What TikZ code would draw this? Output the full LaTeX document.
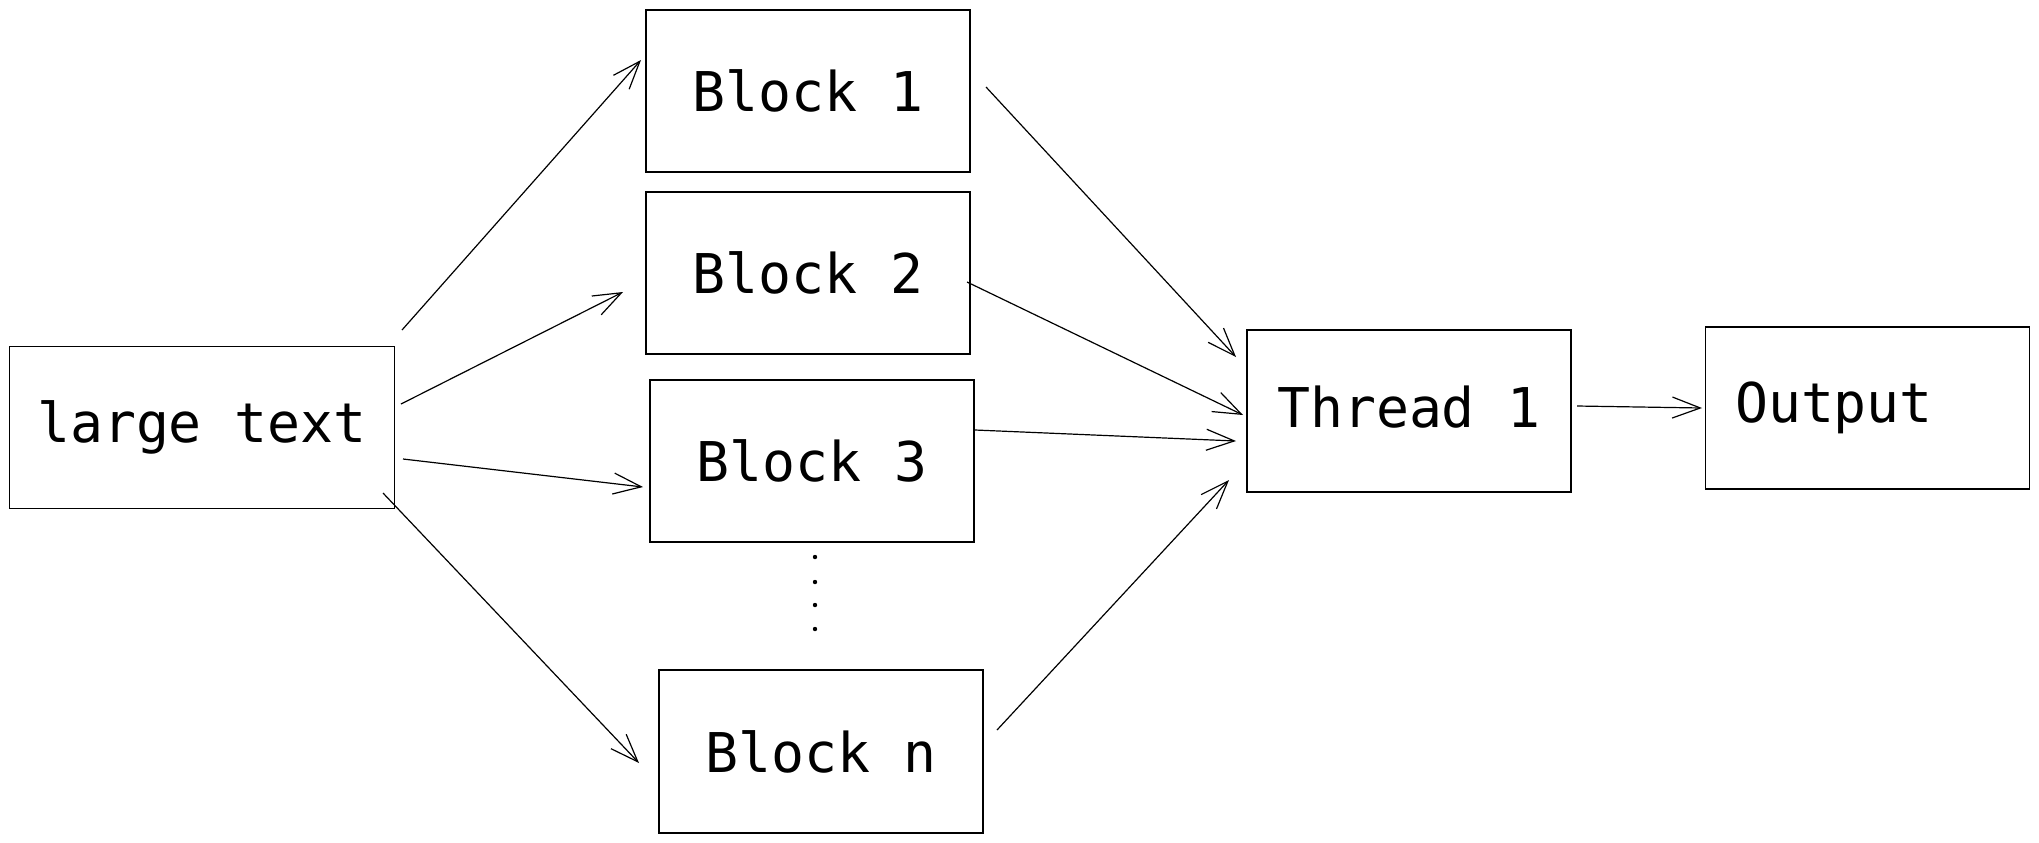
\documentclass[tikz,border=0pt]{standalone}
\usepackage{fontspec}
\setmonofont{DejaVu Sans Mono}
\usetikzlibrary{arrows.meta}
\tikzset{
  blockbox/.style={draw=black, line width=0.95pt, rectangle, minimum width=162pt, minimum height=81pt, inner sep=0pt, font=\ttfamily\fontsize{27.4}{30}\selectfont},
  arr/.style={line width=0.6pt, -{Straight Barb[length=14pt,width=10.5pt,line width=0.6pt]}},
  dotmark/.style={circle, fill=black, inner sep=0pt, minimum size=2.2pt}
}
\begin{document}
\begin{tikzpicture}[x=0.5pt,y=-0.5pt]
\useasboundingbox (0,0) rectangle (2039,842);
\node[blockbox, minimum width=192.5pt] (large) at (202,427.5) {large text};
\node[blockbox] (b1) at (808,91) {Block 1};
\node[blockbox] (b2) at (808,273) {Block 2};
\node[blockbox] (b3) at (812,461) {Block 3};
\node[blockbox, minimum height=81.5pt] (bn) at (821,751.5) {Block n};
\node[blockbox, text depth=4pt] (thread) at (1409,411) {Thread 1};
\node[blockbox, text width=132.5pt, inner xsep=14.5pt, align=left] (out) at (1867.5,408) {Output};
\node[dotmark] (d1) at (815,557) {};
\node[dotmark] (d2) at (815,582) {};
\node[dotmark] (d3) at (815,605) {};
\node[dotmark] (d4) at (815,629) {};
% connector end points
\coordinate (a1s) at (402,330); \coordinate (a1e) at (641,60);
\coordinate (a2s) at (401,404); \coordinate (a2e) at (623,292);
\coordinate (a3s) at (403,459); \coordinate (a3e) at (643,487);
\coordinate (a4s) at (383,493); \coordinate (a4e) at (639,763);
\coordinate (a5s) at (986,87);  \coordinate (a5e) at (1236,357);
\coordinate (a6s) at (967,282); \coordinate (a6e) at (1243,415);
\coordinate (a7s) at (975,430); \coordinate (a7e) at (1236,441);
\coordinate (a8s) at (997,730); \coordinate (a8e) at (1229,480);
\coordinate (a9s) at (1577,406); \coordinate (a9e) at (1702,408);
\draw[arr] (a1s) -- (a1e);
\draw[arr] (a2s) -- (a2e);
\draw[arr] (a3s) -- (a3e);
\draw[arr] (a4s) -- (a4e);
\draw[arr] (a5s) -- (a5e);
\draw[arr] (a6s) -- (a6e);
\draw[arr] (a7s) -- (a7e);
\draw[arr] (a8s) -- (a8e);
\draw[arr] (a9s) -- (a9e);
\end{tikzpicture}
\end{document}
